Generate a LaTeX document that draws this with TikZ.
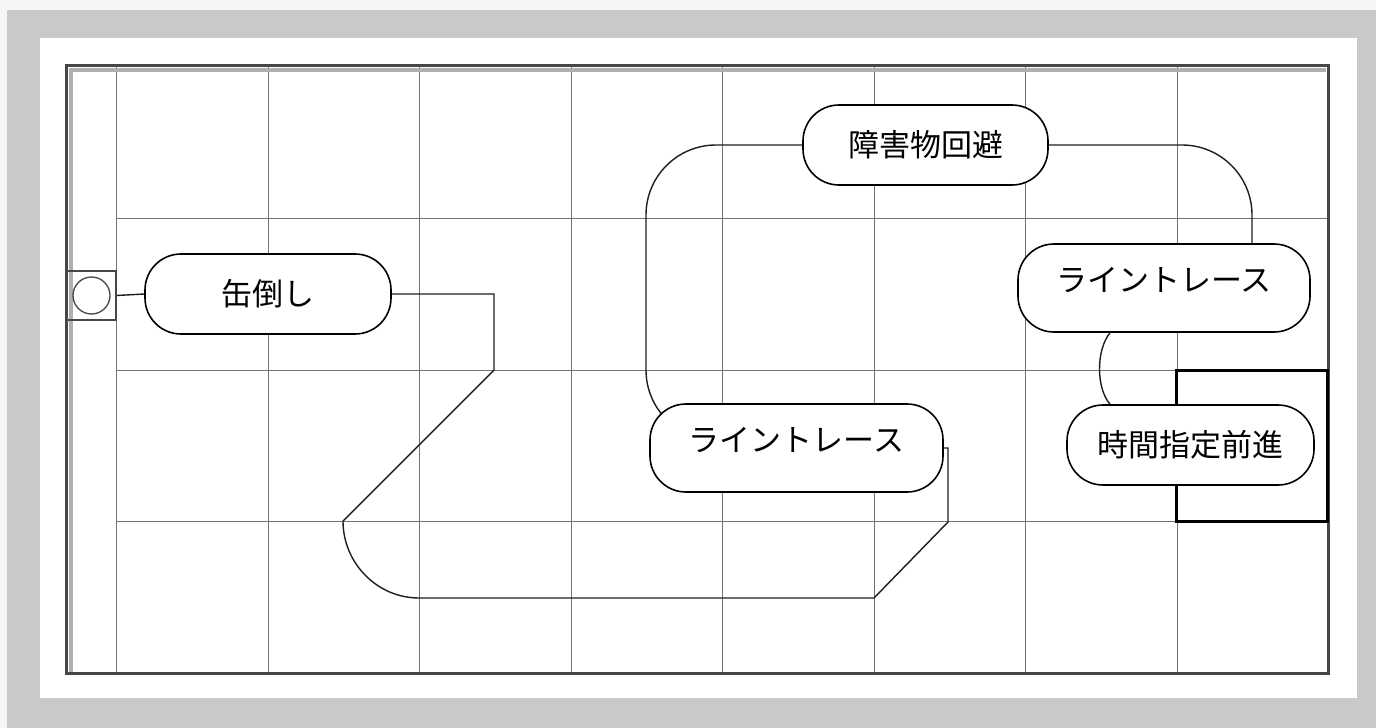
\documentclass[tikz,border=0pt]{standalone}
\usepackage{fontspec}
\newfontfamily\jp{Noto Sans CJK JP}
\usetikzlibrary{calc}
\pgfdeclarelayer{gridlayer}
\pgfdeclarelayer{edgelayer}
\pgfsetlayers{gridlayer,edgelayer,main}
\definecolor{outergray}{RGB}{201,201,201}
\definecolor{pagebg}{RGB}{246,246,246}
\definecolor{gridgray}{RGB}{115,115,115}
\definecolor{framegray}{RGB}{70,70,70}
\definecolor{shadowgray}{RGB}{175,175,175}
\definecolor{linecol}{RGB}{30,30,30}
\begin{document}
\begin{tikzpicture}[x=1pt,y=-1pt,
  pill/.style={draw=black, line width=1.6pt, fill=white, rounded corners=36pt, inner sep=0pt, font=\jp\fontsize{31}{36}\selectfont},
  raised/.style={text height=22pt, text depth=14.4pt},
  conn/.style={draw=linecol, line width=1.4pt},
  gridline/.style={draw=gridgray, line width=1pt},
  startbox/.style={draw=framegray, line width=1.3pt, inner sep=0pt},
]
\useasboundingbox (0,0) rectangle (1376,728);

% nodes
\node[pill, minimum width=246pt, minimum height=80pt] (kan) at (268,294) {缶倒し};
\node[pill, minimum width=245pt, minimum height=80pt] (obs) at (925.5,145) {障害物回避};
\node[pill, raised, minimum width=293pt, minimum height=88pt] (lt1) at (796.5,448) {ライントレース};
\node[pill, raised, minimum width=292pt, minimum height=88pt] (lt2) at (1164,288) {ライントレース};
\node[pill, minimum width=247pt, minimum height=80pt] (tme) at (1190.5,445) {時間指定前進};
\node[startbox, minimum size=49pt] (start) at (91.5,295.5) {};
\node[startbox, circle, minimum size=37pt] (startc) at (start.center) {};

\begin{pgfonlayer}{gridlayer}
\fill[pagebg] (0,0) rectangle (1376,728);
\fill[outergray] (7,10) rectangle (1376,728);
\fill[white] (40,38) rectangle (1357,698);
\foreach \x in {116,268,419,571,722,874,1025,1177}
  \draw[gridline] (\x,65) -- (\x,673);
\foreach \y in {218,370,521}
  \draw[gridline] (116,\y) -- (1328,\y);
\draw[shadowgray, line width=4pt] (70.5,673) -- (70.5,69.5) -- (1326,69.5);
\draw[framegray, line width=3pt] (66,65) rectangle (1328,673);
\end{pgfonlayer}

\begin{pgfonlayer}{edgelayer}
\draw[black, line width=3pt] (1176,370) rectangle (1327,521);
\draw[conn] (start.east) -- (kan.west);
\draw[conn] (kan.east) -| (494,370) -- (343,521)
  .. controls (343,563) and (377,598) .. (419,598)
  -- (874,598) -- (948,522) -- (948,448) -- (lt1.east);
\draw[conn, rounded corners=70pt] ($(lt1.west)+(66,-8)$) -- (646,440) -- (646,145) -- (obs.west);
\draw[conn, rounded corners=70pt] (obs.east) -- (1252,145) -- ($(lt2.north)+(88,0)$);
\draw[conn] ($(lt2.south)+(-54,0)$) .. controls (1096,350) and (1096,388) .. ($(tme.north)+(-80.5,0)$);
\end{pgfonlayer}
\end{tikzpicture}
\end{document}
